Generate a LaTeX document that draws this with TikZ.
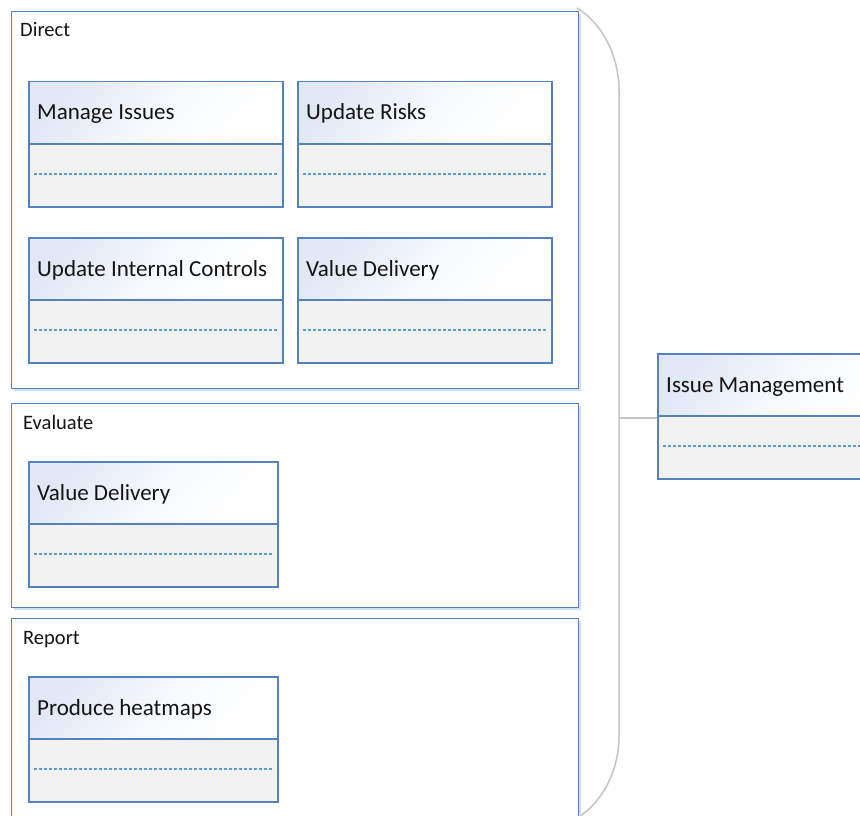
\documentclass[tikz,border=0pt]{standalone}
\usepackage{fontspec}
\setmainfont{Carlito}
\usetikzlibrary{shadings,shadows}
\definecolor{bordc}{RGB}{84,130,190}
\definecolor{dashc}{RGB}{91,155,213}
\definecolor{bodyc}{RGB}{242,242,242}
\definecolor{hdrc}{RGB}{224,232,245}
\definecolor{hdrm}{RGB}{246,249,253}
\definecolor{shadc}{RGB}{210,225,243}
\definecolor{bracec}{RGB}{196,196,196}
\definecolor{txtc}{RGB}{20,20,20}
\tikzset{
  groupbox/.style={draw=bordc, line width=1.3pt, fill=white, anchor=north west, inner sep=0pt,
    general shadow={shadow xshift=2.5pt, shadow yshift=-2.5pt, fill=shadc}},
  grouplabel/.style={anchor=base west, inner sep=0pt, font=\fontsize{20.5}{24}\selectfont, text=txtc},
  clsbody/.style={draw=bordc, line width=1.5pt, fill=bodyc, minimum height=125, inner sep=0pt, anchor=north west},
  clshead/.style={draw=bordc, line width=1.5pt, minimum height=62, inner sep=0pt, anchor=north west,
    top color=hdrc, bottom color=white, middle color=hdrm, shading angle=50},
  clstext/.style={anchor=base west, inner sep=0pt, font=\fontsize{23}{27}\selectfont, text=txtc},
  sepdash/.style={draw=dashc, line width=1.2pt, dash pattern=on 3pt off 2pt},
  bracepath/.style={draw=bracec, line width=1.5pt},
}
\newcommand\umlclass[5]{%
  \node[clsbody, minimum width=#4] (#1) at (#2,#3) {};
  \node[clshead, minimum width=#4] (#1-h) at (#2,#3) {};
  \node[clstext] (#1-t) at ([xshift=9pt,yshift=-39pt]#1.north west) {#5};
  \draw[sepdash] ([xshift=6pt,yshift=-93pt]#1.north west) -- ([xshift=-7pt,yshift=-93pt]#1.north east);
}
\begin{document}
\begin{tikzpicture}[x=1pt,y=-1pt]
\useasboundingbox (0,0) rectangle (860,816);
\clip (0,0) rectangle (860,816);
\fill[white] (0,0) rectangle (860,816);
% brace
\draw[bracepath] (577,8) .. controls (605,25) and (619,60) .. (619,90) -- (619,737)
  .. controls (619,767) and (605,801) .. (577,818);
\coordinate (bmid) at (619,418);
% groups
\node[groupbox, minimum width=567, minimum height=377] (direct) at (11,11) {};
\node[grouplabel] (direct-l) at (20,37) {Direct};
\node[groupbox, minimum width=567, minimum height=204] (evaluate) at (11,403) {};
\node[grouplabel] (evaluate-l) at (23,429) {Evaluate};
\node[groupbox, minimum width=567, minimum height=210] (report) at (11,618) {};
\node[grouplabel] (report-l) at (23,644) {Report};
% classes
\umlclass{mi}{28}{81}{254}{Manage Issues}
\umlclass{ur}{297}{81}{254}{Update Risks}
\umlclass{uic}{28}{237}{254}{Update Internal Controls}
\umlclass{vdA}{297}{237}{254}{Value Delivery}
\umlclass{vdB}{28}{461}{249}{Value Delivery}
\umlclass{ph}{28}{676}{249}{Produce heatmaps}
\umlclass{im}{657}{353}{254}{Issue Management}
% connector
\draw[bracepath] (bmid) -- (bmid -| im.west);
\end{tikzpicture}
\end{document}
